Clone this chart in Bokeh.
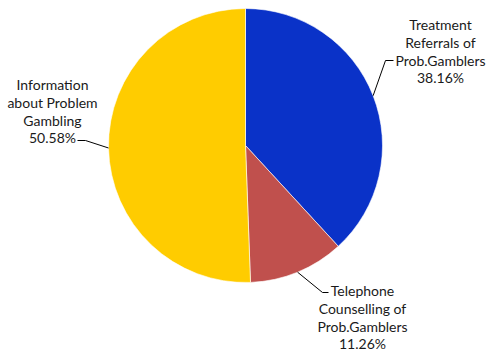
import math
from bokeh.plotting import figure
from bokeh.models import Range1d, ColumnDataSource
from bokeh.core.properties import value
from bokeh.embed import file_html
from bokeh.resources import INLINE

categories = [["Treatment", "Referrals of", "Prob.Gamblers"],
              ["Telephone", "Counselling of", "Prob.Gamblers"],
              ["Information", "about Problem", "Gambling"]]
shares = [38.16, 11.26, 50.58]
pct_labels = ["38.16%", "11.26%", "50.58%"]
colors = ["#0A32C8", "#C0504D", "#FFCC00"]

W, H = 489, 352
cx, cy, r = 245, H - 145, 137

p = figure(width=W, height=H, output_backend="svg", toolbar_location=None,
           x_range=Range1d(0, W), y_range=Range1d(0, H), min_border=0)
p.axis.visible = False
p.grid.visible = False
p.outline_line_color = None
p.background_fill_color = "white"

total = sum(shares)
starts, ends, mids = [], [], []
acc = 0.0
for s in shares:
    a0 = math.pi / 2 - 2 * math.pi * acc / total
    acc += s
    a1 = math.pi / 2 - 2 * math.pi * acc / total
    starts.append(a0)
    ends.append(a1)
    mids.append((a0 + a1) / 2)

src = ColumnDataSource(dict(start=starts, end=ends, color=colors))
p.wedge(x=cx, y=cy, radius=r, start_angle="start", end_angle="end",
        direction="clock", fill_color="color", line_color="white", line_width=0.6, source=src)

# label layout: (elbow x, elbow y, end x, text center x, first line center y)
layout = [
    (385, H - 60, 393, 440, H - 24),
    (322, H - 292, 328, 362, H - 290),
    (85, H - 140, 77, 52, H - 84),
]
LS = 17.8
for i, (ex, ey, hx, tx, ty) in enumerate(layout):
    sx = cx + r * math.cos(mids[i])
    sy = cy + r * math.sin(mids[i])
    p.line([sx, ex, hx], [sy, ey, ey], line_color="black", line_width=1)
    lines = categories[i] + [pct_labels[i]]
    p.text(x=[tx] * len(lines), y=[ty - k * LS for k in range(len(lines))], text=lines,
           text_font=value("Lato"), text_font_size="14px", text_color="#1a1a1a",
           text_align="center", text_baseline="middle")

open("out.html", "w").write(file_html(p, INLINE))
